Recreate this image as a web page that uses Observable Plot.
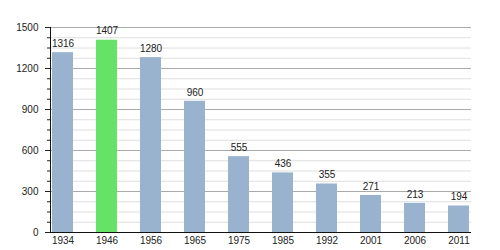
<!DOCTYPE html>
<html>
<head>
<meta charset="utf-8">
<script src="https://cdn.jsdelivr.net/npm/d3@7"></script>
<script src="https://cdn.jsdelivr.net/npm/@observablehq/plot@0.6"></script>
<style>
  html, body { margin: 0; padding: 0; background: #fff; }
  svg { display: block; }
</style>
</head>
<body>
<div id="chart"></div>
<script>
const years = ["1934","1946","1956","1965","1975","1985","1992","2001","2006","2011"];
const population = [1316, 1407, 1280, 960, 555, 436, 355, 271, 213, 194];
const highlightYear = "1946";
const majorTicks = [0, 300, 600, 900, 1200, 1500];
const minorTicks = [75,150,225,375,450,525,675,750,825,975,1050,1125,1275,1350,1425];

const data = years.map((y, i) => ({year: y, value: population[i]}));

const chart = Plot.plot({
  width: 500,
  height: 250,
  marginTop: 27,
  marginBottom: 18,
  marginLeft: 50,
  marginRight: 29,
  style: {fontFamily: "'Liberation Sans', Arial, sans-serif", fontSize: "10px", color: "#222", background: "#fff"},
  x: {domain: years, paddingInner: 0.527, paddingOuter: 0, label: null},
  y: {domain: [0, 1500], label: null},
  marks: [
    Plot.ruleY(minorTicks, {stroke: "#dedede", strokeWidth: 1}),
    Plot.ruleY(majorTicks.filter(d => d > 0), {stroke: "#aaa", strokeWidth: 1}),
    Plot.barY(data, {x: "year", y: "value", fill: d => d.year === highlightYear ? "#66e266" : "#99b3cf"}),
    Plot.text(data, {x: "year", y: "value", text: d => String(d.value), dy: -9, fill: "#222", fontSize: 10}),
    Plot.axisY({ticks: minorTicks, tickSize: 3, tickFormat: () => "", stroke: "#222"}),
    Plot.axisY({ticks: majorTicks, tickSize: 5, tickPadding: 7, tickFormat: d => String(d), fill: "#222", stroke: "#222"}),
    Plot.axisX({tickSize: 0, tickPadding: 4, fill: "#222"}),
    Plot.ruleY([0], {stroke: "#111", strokeWidth: 1.2}),
    Plot.frame({anchor: "left", stroke: "#111"})
  ]
});
document.getElementById("chart").appendChild(chart);
</script>
</body>
</html>
